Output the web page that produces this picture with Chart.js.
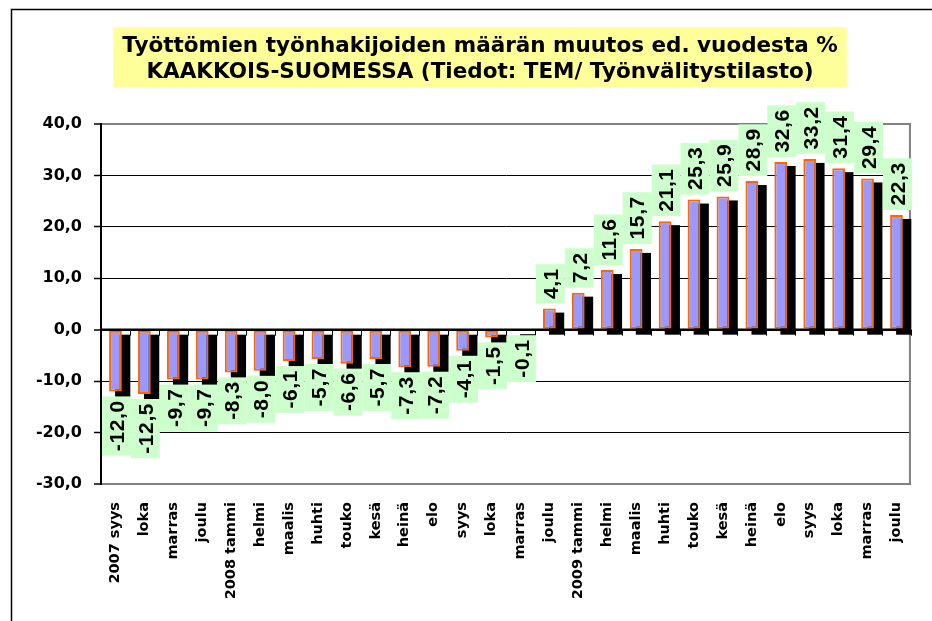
<!DOCTYPE html>
<html><head><meta charset="utf-8">
<script src="https://cdn.jsdelivr.net/npm/chart.js@4.4.1/dist/chart.umd.min.js"></script>
<style>html,body{margin:0;padding:0;background:#fff}#wrap{width:932px;height:621px;position:relative}</style>
</head><body><div id="wrap"><canvas id="c"></canvas></div>
<script>
const titleLines = ['Työttömien työnhakijoiden määrän muutos ed. vuodesta %', 'KAAKKOIS-SUOMESSA (Tiedot: TEM/ Työnvälitystilasto)'];
const categories = ['2007 syys','loka','marras','joulu','2008 tammi','helmi','maalis','huhti','touko','kesä','heinä','elo','syys','loka','marras','joulu','2009 tammi','helmi','maalis','huhti','touko','kesä','heinä','elo','syys','loka','marras','joulu'];
const changePct = [-12.0,-12.5,-9.7,-9.7,-8.3,-8.0,-6.1,-5.7,-6.6,-5.7,-7.3,-7.2,-4.1,-1.5,-0.1,4.1,7.2,11.6,15.7,21.1,25.3,25.9,28.9,32.6,33.2,31.4,29.4,22.3];
const yMin = -30, yMax = 40, yStep = 10;
const fmt = v => v.toFixed(1).replace('.', ',');

const WIDE = '"DejaVu Sans", Verdana, sans-serif';
const ARIAL = '"Liberation Sans", Arial, Helvetica, sans-serif';

const decor = {
  id: 'decor',
  beforeDraw(chart) {
    const ctx = chart.ctx;
    ctx.save();
    ctx.fillStyle = '#fff';
    ctx.fillRect(0, 0, chart.width, chart.height);
    // outer frame
    ctx.strokeStyle = '#000';
    ctx.lineWidth = 1.5;
    ctx.beginPath();
    ctx.moveTo(11.5, chart.height + 2);
    ctx.lineTo(11.5, 9.5);
    ctx.lineTo(chart.width + 2, 9.5);
    ctx.stroke();
    // title background
    const tb = chart.titleBlock;
    const to = chart.options.plugins.title;
    const fs = to.font.size, lh = fs * to.font.lineHeight;
    ctx.font = 'bold ' + fs + 'px ' + WIDE;
    let w = 0;
    titleLines.forEach(t => { w = Math.max(w, ctx.measureText(t).width); });
    const cx = (tb.left + tb.right) / 2;
    const mid1 = tb.top + to.padding.top + lh / 2;
    const mid2 = mid1 + lh * (titleLines.length - 1);
    ctx.fillStyle = '#ffff99';
    ctx.fillRect(cx - w / 2 - 9, mid1 - 19, w + 18, (mid2 + 14.5) - (mid1 - 19));
    ctx.restore();
  },
  beforeDatasetsDraw(chart) {
    const ctx = chart.ctx;
    const ca = chart.chartArea;
    ctx.save();
    // right plot border
    ctx.strokeStyle = '#808080';
    ctx.lineWidth = 2;
    ctx.beginPath();
    ctx.moveTo(ca.right - 1, ca.top);
    ctx.lineTo(ca.right - 1, ca.bottom);
    ctx.stroke();
    // bar shadows
    const meta = chart.getDatasetMeta(0);
    ctx.fillStyle = '#000';
    meta.data.forEach(bar => {
      const l = bar.x - bar.width / 2, r = bar.x + bar.width / 2;
      const t = Math.min(bar.y, bar.base), b = Math.max(bar.y, bar.base);
      ctx.fillRect(l + 6, t + 4, (r + 8.5) - (l + 6), (b + 6) - (t + 4));
    });
    ctx.restore();
  },
  afterDatasetsDraw(chart) {
    const ctx = chart.ctx;
    const ca = chart.chartArea;
    const xs = chart.scales.x, ys = chart.scales.y;
    const meta = chart.getDatasetMeta(0);
    const y0 = ys.getPixelForValue(0);
    ctx.save();
    // zero line
    ctx.strokeStyle = '#000';
    ctx.lineWidth = 2.5;
    ctx.beginPath();
    ctx.moveTo(ca.left, y0);
    ctx.lineTo(ca.right, y0);
    ctx.stroke();
    // category tick marks on the zero line
    ctx.lineWidth = 1;
    ctx.beginPath();
    for (let i = 0; i <= categories.length; i++) {
      const bx = Math.round(xs.getPixelForValue(i - 0.5)) + 0.5;
      ctx.moveTo(bx, y0);
      ctx.lineTo(bx, y0 + 6);
    }
    ctx.stroke();
    // value labels
    ctx.font = 'bold 21px ' + ARIAL;
    ctx.letterSpacing = '0.6px';
    const cw = xs.getPixelForValue(1) - xs.getPixelForValue(0);
    meta.data.forEach((bar, i) => {
      const v = changePct[i];
      const txt = fmt(v);
      const tw = ctx.measureText(txt).width - 0.6;
      const len = tw + 9;
      let y1;
      if (v < 0) { y1 = bar.y + 5; } else { y1 = bar.y - 5 - len; }
      ctx.fillStyle = '#ccffcc';
      ctx.fillRect(bar.x - cw / 2 + 1, y1, cw, len);
      ctx.save();
      ctx.translate(bar.x + 2.5, y1 + len / 2);
      ctx.rotate(-Math.PI / 2);
      ctx.textAlign = 'center';
      ctx.textBaseline = 'middle';
      ctx.fillStyle = '#000';
      ctx.fillText(txt, 0.3, 0);
      ctx.restore();
    });
    ctx.letterSpacing = '0px';
    ctx.restore();
  }
};

new Chart(document.getElementById('c'), {
  type: 'bar',
  data: {
    labels: categories,
    datasets: [{
      data: changePct,
      backgroundColor: '#9999ff',
      borderColor: '#ff6600',
      borderWidth: 2,
      borderSkipped: false,
      categoryPercentage: 1,
      barPercentage: 0.44
    }]
  },
  options: {
    responsive: true,
    maintainAspectRatio: false,
    animation: false,
    layout: { padding: { left: 35, right: 7, top: 0, bottom: 0 } },
    plugins: {
      legend: { display: false },
      tooltip: { enabled: false },
      title: {
        display: true,
        text: titleLines,
        color: '#000',
        font: { family: WIDE, size: 21.5, weight: 'bold', lineHeight: 1.238 },
        padding: { top: 32.7, bottom: 38 }
      }
    },
    scales: {
      x: {
        grid: { display: false, drawTicks: false },
        border: { display: true, color: '#808080', width: 2 },
        ticks: {
          autoSkip: false, maxRotation: 90, minRotation: 90, padding: 18,
          color: '#000',
          font: { family: WIDE, size: 14.5, weight: 'bold' }
        },
        afterFit(s) { s.height = 137; }
      },
      y: {
        min: yMin, max: yMax,
        grid: {
          color: c => (c.tick.value === yMax || c.tick.value === yMin) ? '#808080' : '#000',
          lineWidth: c => (c.tick.value === yMax || c.tick.value === yMin || c.tick.value === 0) ? 2 : 1,
          tickColor: '#000', tickLength: 7, tickWidth: 1.5
        },
        border: { color: '#000', width: 2 },
        ticks: {
          stepSize: yStep, padding: 12, color: '#000',
          font: { family: WIDE, size: 16, weight: 'bold' },
          callback: v => fmt(v)
        },
        afterFit(s) { s.width = 66; }
      }
    }
  },
  plugins: [decor]
});
</script>
</body></html>
